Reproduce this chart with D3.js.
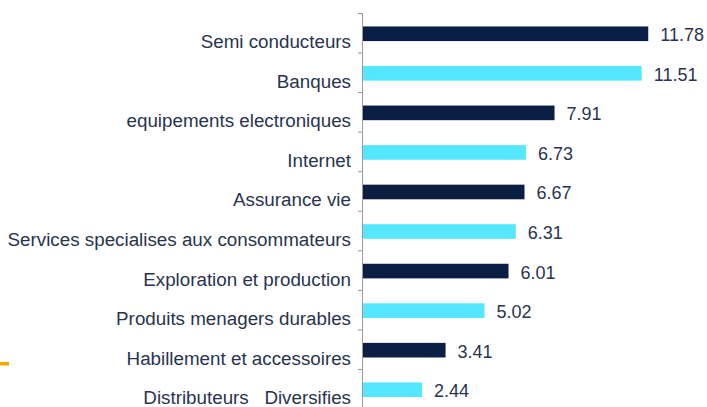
<!DOCTYPE html>
<html>
<head>
<meta charset="utf-8">
<script src="https://cdn.jsdelivr.net/npm/d3@7"></script>
<style>
  body { margin: 0; background: #fff; }
  text { font-family: "Liberation Sans", Arial, sans-serif; fill: #28344f; }
</style>
</head>
<body>
<div id="wrapper"></div>
<script>
// 1. Data
const categories = [
  "Semi conducteurs",
  "Banques",
  "equipements electroniques",
  "Internet",
  "Assurance vie",
  "Services specialises aux consommateurs",
  "Exploration et production",
  "Produits menagers durables",
  "Habillement et accessoires",
  "Distributeurs   Diversifies"
]
const values = [11.78, 11.51, 7.91, 6.73, 6.67, 6.31, 6.01, 5.02, 3.41, 2.44]
const valueLabels = ["11.78", "11.51", "7.91", "6.73", "6.67", "6.31", "6.01", "5.02", "3.41", "2.44"]

const colors = ["#0b1f44", "#55e7ff"]

// 2. Dimensions
const dimensions = {
  width: 707,
  height: 407,
  margin: { top: 14, right: 5, bottom: 0, left: 363 },
}

// 3. Canvas
const svg = d3.select("#wrapper")
  .append("svg")
    .attr("width", dimensions.width)
    .attr("height", dimensions.height)

// 4. Scales
const xScale = d3.scaleLinear()
  .domain([0, 14])
  .range([dimensions.margin.left, dimensions.margin.left + 339])

const yScale = d3.scaleBand()
  .domain(categories)
  .range([dimensions.margin.top, dimensions.margin.top + 395.5])
  .paddingInner(0.63)
  .paddingOuter(0.315)

const step = yScale.step()
const bandTop = yScale.range()[0]

// 5. Bars
svg.append("g")
  .selectAll("rect")
  .data(values)
  .join("rect")
    .attr("x", xScale(0))
    .attr("y", (d, i) => yScale(categories[i]))
    .attr("width", d => xScale(d) - xScale(0))
    .attr("height", yScale.bandwidth())
    .attr("fill", (d, i) => colors[i % 2])

// value labels
svg.append("g")
  .selectAll("text")
  .data(values)
  .join("text")
    .attr("x", d => xScale(d) + 12)
    .attr("y", (d, i) => yScale(categories[i]) + yScale.bandwidth() / 2 + 7.5)
    .style("font-size", "18px")
    .text((d, i) => valueLabels[i])

// 6. Axis
const axis = svg.append("g")
axis.append("line")
  .attr("x1", xScale(0) - 0.5).attr("x2", xScale(0) - 0.5)
  .attr("y1", bandTop - 1).attr("y2", dimensions.height)
  .attr("stroke", "#9a9a9a")
  .attr("stroke-width", 1)

axis.selectAll(".tick")
  .data(d3.range(categories.length + 1))
  .join("line")
    .attr("class", "tick")
    .attr("x1", xScale(0) - 5).attr("x2", xScale(0))
    .attr("y1", i => bandTop - 0.5 + i * step)
    .attr("y2", i => bandTop - 0.5 + i * step)
    .attr("stroke", "#9a9a9a")

// category labels
svg.append("g")
  .selectAll("text")
  .data(categories)
  .join("text")
    .attr("x", xScale(0) - 12)
    .attr("y", d => yScale(d) + yScale.bandwidth() / 2 + 14.5)
    .attr("text-anchor", "end")
    .style("font-size", "18.8px")
    .style("white-space", "pre")
    .attr("xml:space", "preserve")
    .text(d => d)

// orange marker at left edge
svg.append("rect")
  .attr("x", 0).attr("y", 362)
  .attr("width", 9).attr("height", 3.5)
  .attr("fill", "#f5a800")
</script>
</body>
</html>
